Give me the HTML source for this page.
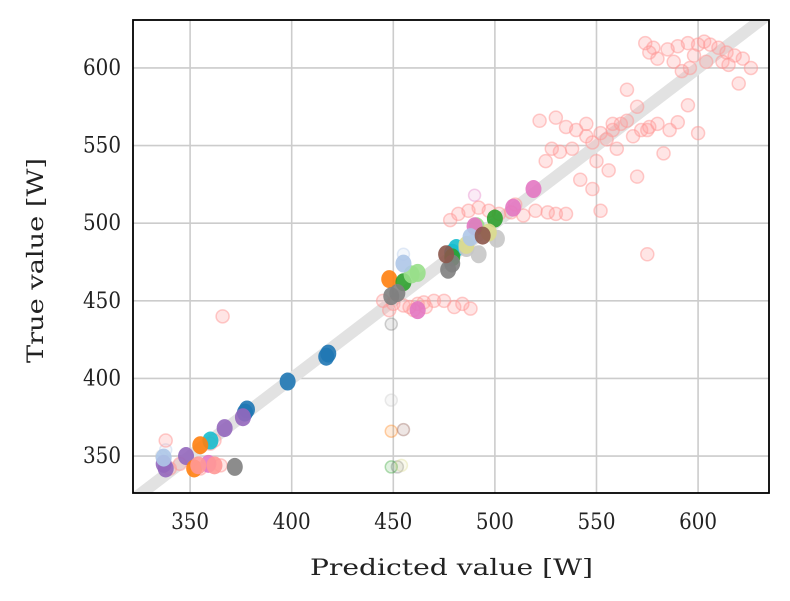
<!DOCTYPE html>
<html><head><meta charset="utf-8"><style>
body{margin:0;background:#fff;}
svg{display:block;font-family:"DejaVu Serif","Liberation Serif",serif;}
.tk{font-size:22px;fill:#222;}
.ti{font-size:22px;fill:#222;}
</style></head><body>
<svg id="chart" width="790" height="601"></svg>
<script>
const xTicks=[350,400,450,500,550,600];
const yTicks=[350,400,450,500,550,600];
const pinkPred=[574,578,585,590,595,600,603,606,610,614,618,622,626,580,588,596,604,612,576,598,592,620,615,
522,530,535,540,545,548,552,555,558,562,565,545,538,528,525,532,550,556,542,548,560,568,572,576,580,586,590,595,583,575,600,570,552,575,565,570,558,
482,487,492,497,502,508,514,520,526,530,535,478,510,
445,450,455,458,462,465,470,475,480,484,488,448,460,466,366,338,340,345,360,365,355,362];
const pinkTrue=[616,613,612,614,616,615,617,615,613,610,608,606,600,606,604,600,604,604,610,608,598,590,602,
566,568,562,560,556,552,558,554,560,564,566,564,548,548,540,546,540,534,528,522,548,556,560,562,564,560,565,576,545,560,558,530,508,480,586,575,564,
506,508,510,508,506,507,505,508,507,506,506,502,512,
450,448,447,446,448,449,450,450,446,448,445,444,444,446,440,360,342,345,358,344,342,360];
const seriesNames=["blue","purple","cyan","orange","green","lightgreen","gray","lightgray","olive","pink","lightblue","brown","salmon"];
const seriesColors=["#1f77b4","#9467bd","#17becf","#ff7f0e","#2ca02c","#98df8a","#7f7f7f","#c7c7c7","#dbdb8d","#e377c2","#aec7e8","#8c564b","#ff9896"];
const seriesPred=[[378,398,418,377,417],[376,367,348,338,337],[360,481,479],[448,355,352],[455,479,500],[462,459,491],[449,452,477,479,372],[492,501,486],[486,497],[490,519,509,462,359],[455,488,337],[476,494],[354,362]];
const seriesTrue=[[380,398,416,378,414],[375,368,350,342,345],[360,484,481],[464,357,342],[462,478,503],[468,467,498],[453,455,470,474,343],[480,490,484],[486,494],[498,522,510,444,345],[474,491,349],[480,492],[344,344]];
const faintPred=[452,449,454,449,455,449,449,455,490,336,338];
const faintTrue=[343,343,344,366,367,386,435,480,518,350,354];
const faintColors=["#7f7f7f","#2ca02c","#dbdb8d","#ff7f0e","#8c564b","#c7c7c7","#7f7f7f","#aec7e8","#e377c2","#c7c7c7","#aec7e8"];

const L=133,R=769,T=20,B=493;
const xMin=321.9,xMax=634.9,yMin=326.2,yMax=630.9;
const sx=v=>L+(v-xMin)/(xMax-xMin)*(R-L);
const sy=v=>B-(v-yMin)/(yMax-yMin)*(B-T);
const svg=document.getElementById('chart');
const NS='http://www.w3.org/2000/svg';
function mk(tag,attrs,parent){const e=document.createElementNS(NS,tag);for(const k in attrs)e.setAttribute(k,attrs[k]);(parent||svg).appendChild(e);return e;}

const clip=mk('clipPath',{id:'pc'});mk('rect',{x:L,y:T,width:R-L,height:B-T},clip);
const grid=mk('g',{});


xTicks.forEach(t=>{const l=mk('line',{x1:sx(t),x2:sx(t),y1:T,y2:B,stroke:'#cccccc','stroke-width':1.6},grid);


const tx=mk('text',{x:sx(t)-19,y:B+36,'class':'tk',textLength:38,lengthAdjust:'spacingAndGlyphs'});tx.textContent=t;

});
yTicks.forEach(t=>{const l=mk('line',{x1:L,x2:R,y1:sy(t),y2:sy(t),stroke:'#cccccc','stroke-width':1.6},grid);


const tx=mk('text',{x:L-50,y:sy(t)+7,'class':'tk',textLength:38,lengthAdjust:'spacingAndGlyphs'});tx.textContent=t;

});

const plot=mk('g',{'clip-path':'url(#pc)'});
const diag=mk('line',{x1:sx(300),y1:sy(300),x2:sx(660),y2:sy(660),stroke:'#e2e2e2','stroke-width':12},plot);



faintPred.forEach((p,i)=>{const c=mk('circle',{cx:sx(p),cy:sy(faintTrue[i]),r:6,fill:faintColors[i],'fill-opacity':0.15,stroke:faintColors[i],'stroke-opacity':0.35,'stroke-width':1.5},plot);

});
pinkPred.forEach((p,i)=>{const c=mk('circle',{cx:sx(p),cy:sy(pinkTrue[i]),r:6.5,fill:'#ff9896','fill-opacity':0.25,stroke:'#ff9896','stroke-opacity':0.5,'stroke-width':1.5},plot);

});
seriesPred.forEach((arr,s)=>{arr.forEach((p,i)=>{const c=mk('ellipse',{cx:sx(p),cy:sy(seriesTrue[s][i]),rx:8,ry:9,fill:seriesColors[s],'fill-opacity':0.9},plot);

});});

const frame=mk('rect',{x:L,y:T,width:R-L,height:B-T,fill:'none',stroke:'#000','stroke-width':1.8});


const xl=mk('text',{x:310,y:575,'class':'ti',textLength:283,lengthAdjust:'spacingAndGlyphs'});xl.textContent='Predicted value [W]';


const yl=mk('text',{x:0,y:0,'class':'ti',textLength:205,lengthAdjust:'spacingAndGlyphs',transform:`translate(43,363) rotate(-90)`});yl.textContent='True value [W]';


</script>
</body></html>
